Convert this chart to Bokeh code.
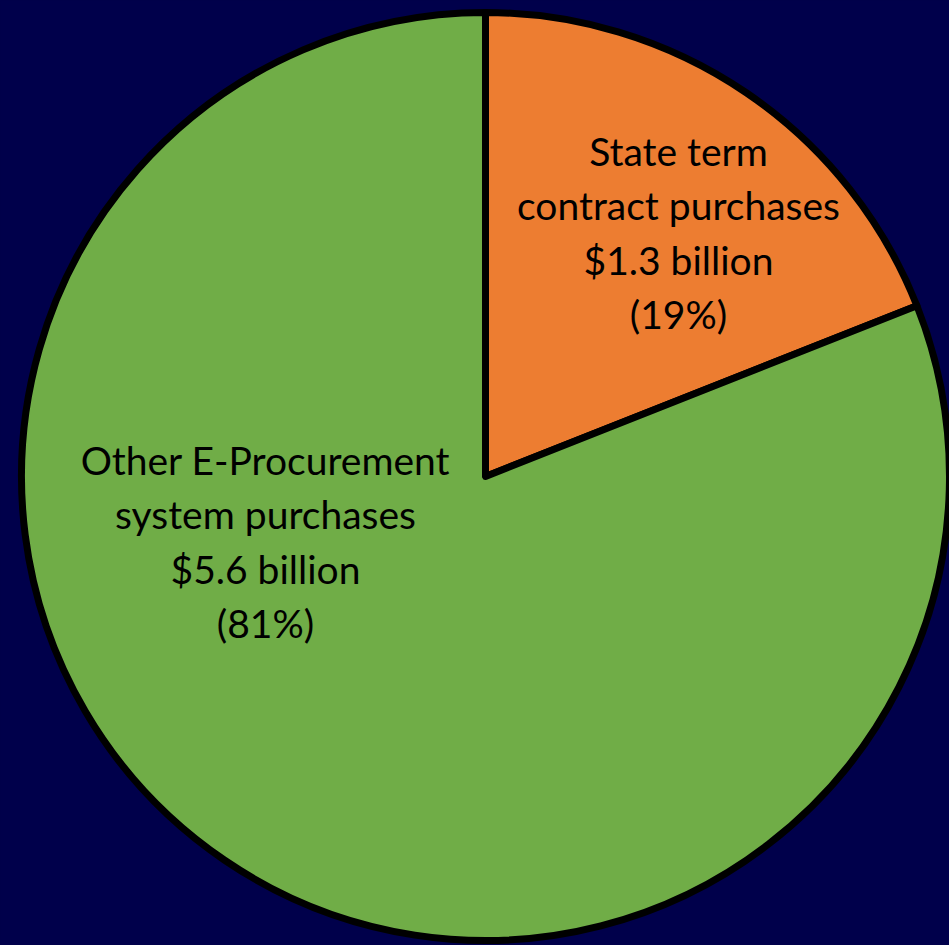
import math
from bokeh.plotting import figure
from bokeh.models import Range1d, ColumnDataSource, GlobalInlineStyleSheet
from bokeh.core.properties import value
from bokeh.embed import file_html
from bokeh.resources import INLINE

# ---- data ----
categories = ["State term\ncontract purchases", "Other E-Procurement\nsystem purchases"]
amounts = ["$1.3 billion", "$5.6 billion"]
percents = [19, 81]
colors = ["#ED7D31", "#70AD47"]

# ---- geometry (layout constants) ----
BG = "#00004B"
W, H = 949, 945
cx_px, cy_px, R_px = 485.0, 476.0, 464.0   # pie centre/radius in page pixels
def to_x(px): return (px - cx_px) / R_px
def to_y(py): return (cy_px - py) / R_px

css = "html, body { margin: 0; padding: 0; overflow: hidden; background-color: %s; }" % BG
p = figure(width=W, height=H, output_backend="svg", toolbar_location=None,
           x_range=Range1d(to_x(0), to_x(W)),
           y_range=Range1d(to_y(H), to_y(0)),
           min_border=0, outline_line_color=None,
           background_fill_color=BG, border_fill_color=BG,
           stylesheets=[GlobalInlineStyleSheet(css=css)])
p.axis.visible = False
p.grid.visible = False

# angles: start at 12 o'clock, go clockwise
total = sum(percents)
starts, ends = [], []
a = math.pi / 2
for v in percents:
    span = 2 * math.pi * v / total
    ends.append(a)
    starts.append(a - span)
    a -= span

src = ColumnDataSource(dict(start=starts, end=ends, color=colors))
p.wedge(x=0, y=0, radius=1.0, start_angle="start", end_angle="end",
        fill_color="color", line_color="black", line_width=7, line_join="round",
        source=src)

label_px = [(678, 232), (265, 541)]
texts = [f"{c}\n{a_}\n({pc}%)" for c, a_, pc in zip(categories, amounts, percents)]
p.text(x=[to_x(lx) for lx, ly in label_px], y=[to_y(ly) for lx, ly in label_px],
       text=texts, text_align="center", text_baseline="middle",
       text_font=value("Lato"), text_font_size="39px", text_color="black",
       text_line_height=1.18)

open("out.html", "w").write(file_html(p, INLINE))
